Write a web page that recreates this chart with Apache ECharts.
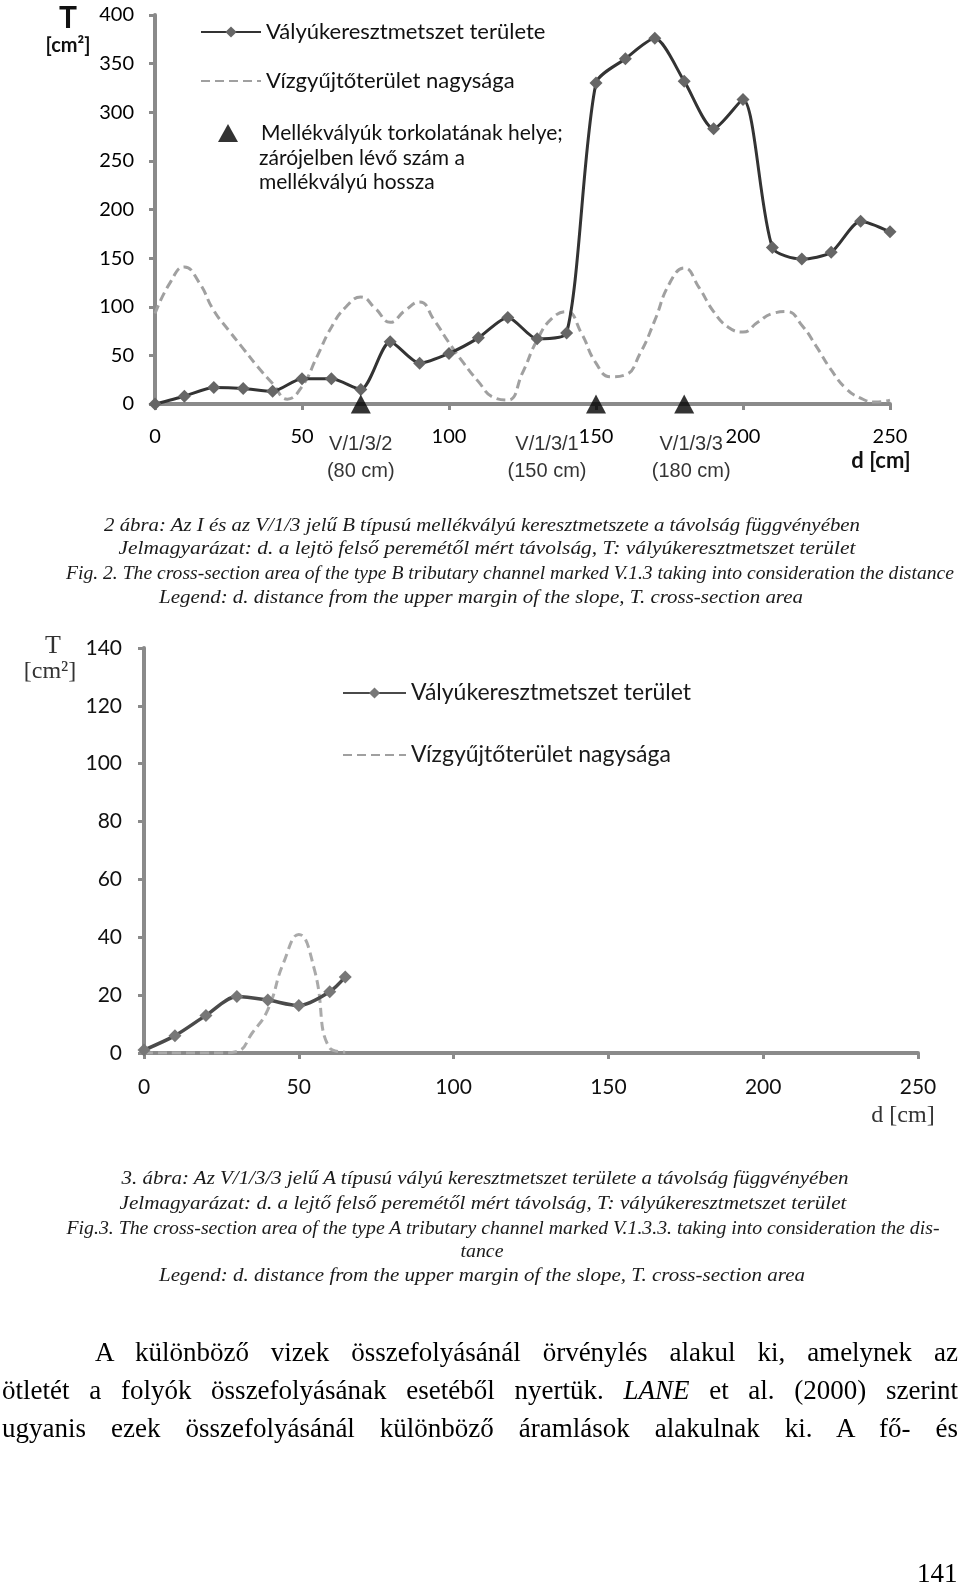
<!DOCTYPE html>
<html lang="hu">
<head>
<meta charset="utf-8">
<title>Vályúkeresztmetszet</title>
<script src="https://cdn.jsdelivr.net/npm/echarts@6/dist/echarts.min.js"></script>
<style>
  html,body{margin:0;padding:0;background:#fff;}
  #page{position:relative;width:960px;height:1585px;overflow:hidden;background:#fff;}
  #chart{position:absolute;left:0;top:0;width:960px;height:1585px;}
  .ln{position:absolute;white-space:nowrap;line-height:1;}
  .cap{font-family:"Liberation Serif","Times New Roman",serif;font-style:italic;font-size:19px;color:#1a1a1a;}
  .bd{font-family:"Liberation Serif","Times New Roman",serif;font-size:27px;color:#000;}
</style>
</head>
<body>
<div id="page"><div id="chart"></div></div>
<script>
// ---------- DATA ----------
// Figure 2 (top chart)
const distTop = [0,10,20,30,40,50,60,70,80,90,100,110,120,130,140,150,160,170,180,190,200,210,220,230,240,250];
const areaTop = [0,8,17,16,13,26,26,15,64,42,52,68,89,67,73,330,355,376,332,283,313,161,149,156,188,177];
const catchDistTop = [0,5,10,15,20,25,30,35,40,45,50,55,60,65,70,75,80,85,90,95,100,105,110,115,120,125,130,135,140,145,150,155,160,165,170,175,180,185,190,195,200,205,210,215,220,225,230,235,240,245,250];
const catchTop = [93,124,141,125,96,76,57,38,21,5,18,48,79,100,110,98,84,96,105,86,63,42,23,7,4,32,66,88,95,73,42,28,30,52,86,124,140,120,95,79,74,84,93,95,81,59,35,16,6,2,4];
const tribDist = [70,150,180];
const tribNames = ['V/1/3/2','V/1/3/1','V/1/3/3'];
const tribLengths = ['(80 cm)','(150 cm)','(180 cm)'];
const yTicksTop = [0,50,100,150,200,250,300,350,400];
// Figure 3 (bottom chart)
const distBot = [0,10,20,30,40,50,60,65];
const areaBot = [1,6,13,19.5,18.3,16.4,21.2,26.3];
const catchDistBot = [0,5,10,15,20,25,30,35,40,45,50,55,60,65];
const catchBot = [0,0,0,0,0,0,0.5,7,15,31,41,29,1.7,0.3];
const yTicksBot = [0,20,40,60,80,100,120,140];
const xTicks = [0,50,100,150,200,250];

const nameSolidTop = 'Vályúkeresztmetszet területe';
const nameDash = 'Vízgyűjtőterület nagysága';
const nameTrib = 'Mellékvályúk torkolatának helye;';
const nameSolidBot = 'Vályúkeresztmetszet terület';

// ---------- CHART ----------
const zip = (a, b) => a.map((v, i) => [v, b[i]]);
const diamond = 'path://M0,-1L1,0L0,1L-1,0Z';
const AX = '#8a8a8a';
function axisBase() {
  return {
    axisLine: {show: true, lineStyle: {color: AX, width: 4}},
    axisTick: {show: true, length: 6, lineStyle: {color: AX, width: 3}},
    splitLine: {show: false}
  };
}
const chart = echarts.init(document.getElementById('chart'), null, {width: 960, height: 1585});
const tribLabelOffsets = [[0, 54], [-49, 54], [7, 54]];
const noSymbol = {color: 'rgba(0,0,0,0)', borderWidth: 0, opacity: 0};

chart.setOption({
  animation: false,
  backgroundColor: '#fff',
  grid: [
    {left: 155, top: 15, width: 735, height: 389},
    {left: 144, top: 648, width: 774, height: 405}
  ],
  xAxis: [
    Object.assign(axisBase(), {type: 'value', gridIndex: 0, min: xTicks[0], max: xTicks[xTicks.length-1], interval: 50,
      axisLabel: {color: '#000', fontFamily: 'Lato', fontSize: 20, margin: 23}}),
    Object.assign(axisBase(), {type: 'value', gridIndex: 1, min: xTicks[0], max: xTicks[xTicks.length-1], interval: 50,
      axisLabel: {color: '#111', fontFamily: 'Lato', fontSize: 21, margin: 24}})
  ],
  yAxis: [
    Object.assign(axisBase(), {type: 'value', gridIndex: 0, min: yTicksTop[0], max: yTicksTop[yTicksTop.length-1], interval: 50,
      axisLabel: {color: '#000', fontFamily: 'Lato', fontSize: 20, margin: 21}}),
    Object.assign(axisBase(), {type: 'value', gridIndex: 1, min: yTicksBot[0], max: yTicksBot[yTicksBot.length-1], interval: 20,
      axisLabel: {color: '#111', fontFamily: 'Lato', fontSize: 21, margin: 22}})
  ],
  legend: [
    {data: [nameSolidTop, {name: nameDash, itemStyle: noSymbol}], orient: 'vertical', left: 195, top: 15, itemWidth: 60, itemHeight: 14, itemGap: 25,
      selectedMode: false, textStyle: {fontFamily: 'Lato', fontSize: 22, color: '#111', lineHeight: 24}},
    {data: [{name: nameTrib, icon: 'triangle'}], orient: 'vertical', left: 213, top: 116, itemWidth: 20, itemHeight: 18,
      selectedMode: false, textStyle: {fontFamily: 'Lato', fontSize: 21, color: '#111', lineHeight: 24, padding: [0, 0, 0, 18]}},
    {data: [nameSolidBot, {name: nameDash, itemStyle: noSymbol}], orient: 'vertical', left: 337, top: 675, itemWidth: 63, itemHeight: 14, itemGap: 36,
      selectedMode: false, textStyle: {fontFamily: 'Lato', fontSize: 23, color: '#1a1a1a', lineHeight: 26}}
  ],
  graphic: [
    {type: 'text', x: 68, y: 18, style: {text: 'T', font: 'bold 30px Lato', fill: '#111', align: 'center', verticalAlign: 'middle'}},
    {type: 'text', x: 68, y: 46, style: {text: '[cm²]', font: 'bold 20px Lato', fill: '#111', align: 'center', verticalAlign: 'middle'}},
    {type: 'text', x: 881, y: 461, style: {text: 'd [cm]', font: 'bold 22px Lato', fill: '#111', align: 'center', verticalAlign: 'middle'}},
    {type: 'text', x: 259, y: 158, style: {text: 'zárójelben lévő szám a', font: '21px Lato', fill: '#111', align: 'left', verticalAlign: 'middle'}},
    {type: 'text', x: 259, y: 182, style: {text: 'mellékvályú hossza', font: '21px Lato', fill: '#111', align: 'left', verticalAlign: 'middle'}},
    {type: 'text', x: 53, y: 646, style: {text: 'T', font: '26px "Liberation Serif"', fill: '#333', align: 'center', verticalAlign: 'middle'}},
    {type: 'text', x: 50, y: 672, style: {text: '[cm²]', font: '24px "Liberation Serif"', fill: '#333', align: 'center', verticalAlign: 'middle'}},
    {type: 'text', x: 903, y: 1116, style: {text: 'd [cm]', font: '24px "Liberation Serif"', fill: '#333', align: 'center', verticalAlign: 'middle'}}
  ],
  series: [
    {name: nameDash, type: 'line', xAxisIndex: 0, yAxisIndex: 0, data: zip(catchDistTop, catchTop), smooth: 0.5,
      symbol: 'none', lineStyle: {color: '#a0a0a0', width: 3, type: [9, 5]}, itemStyle: {color: '#a0a0a0'}, z: 2},
    {name: nameSolidTop, type: 'line', xAxisIndex: 0, yAxisIndex: 0, data: zip(distTop, areaTop), smooth: 0.25,
      symbol: diamond, symbolSize: 13, lineStyle: {color: '#333', width: 3}, itemStyle: {color: '#666'}, z: 3},
    {name: nameTrib, type: 'scatter', xAxisIndex: 0, yAxisIndex: 0, clip: false,
      data: tribDist.map((d, i) => ({value: [d, 0], label: {offset: tribLabelOffsets[i]}})),
      symbol: 'triangle', symbolSize: [20, 19], itemStyle: {color: '#000'}, z: 5,
      label: {show: true, position: 'inside', align: 'center', verticalAlign: 'middle',
        formatter: p => tribNames[p.dataIndex] + '\n' + tribLengths[p.dataIndex],
        fontFamily: '"Liberation Sans", Arial', fontSize: 20, lineHeight: 27, color: '#000'}},
    {name: nameDash, type: 'line', xAxisIndex: 1, yAxisIndex: 1, data: zip(catchDistBot, catchBot), smooth: 0.5,
      symbol: 'none', lineStyle: {color: '#aaaaaa', width: 3, type: [9, 5]}, itemStyle: {color: '#aaaaaa'}, z: 2},
    {name: nameSolidBot, type: 'line', xAxisIndex: 1, yAxisIndex: 1, data: zip(distBot, areaBot), smooth: 0.3,
      symbol: diamond, symbolSize: 13, lineStyle: {color: '#4a4a4a', width: 3.5}, itemStyle: {color: '#777'}, z: 3}
  ]
});

// ---------- TEXT (captions and body) ----------
const page = document.getElementById('page');
const captionTexts = [
  '2 ábra: Az I és az V/1/3 jelű B típusú mellékvályú keresztmetszete a távolság függvényében',
  'Jelmagyarázat: d. a lejtö felső peremétől mért távolság, T: vályúkeresztmetszet terület',
  'Fig. 2. The cross-section area of the type B tributary channel marked V.1.3 taking into consideration the distance',
  'Legend: d. distance from the upper margin of the slope, T. cross-section area',
  '3. ábra: Az V/1/3/3 jelű A típusú vályú keresztmetszet területe a távolság függvényében',
  'Jelmagyarázat: d. a lejtő felső peremétől mért távolság, T:  vályúkeresztmetszet terület',
  'Fig.3. The cross-section area of the type A tributary channel marked V.1.3.3. taking into consideration the dis-',
  'tance',
  'Legend: d. distance from the upper margin of the slope, T. cross-section area'
];
// [centerX, centerY, width]
const captionLayout = [
  [482, 524, 756], [487, 547, 737], [510, 572, 888], [481, 596, 644],
  [485, 1177, 727], [483, 1202, 727], [503, 1227, 873], [482, 1250, 43], [482, 1274, 646]
];
captionTexts.forEach((t, i) => {
  const [cx, cy, w] = captionLayout[i];
  const el = document.createElement('div');
  el.className = 'ln cap';
  el.textContent = t;
  el.style.left = cx + 'px';
  el.style.top = cy + 'px';
  page.appendChild(el);
  const nat = el.getBoundingClientRect().width;
  const s = w / nat;
  el.style.transform = 'translate(-50%,-50%) scaleX(' + s.toFixed(4) + ')';
});

const bodyLines = [
  'A különböző vizek összefolyásánál örvénylés alakul ki, amelynek az',
  'ötletét a folyók összefolyásának esetéből nyertük. <i>LANE</i> et al. (2000) szerint',
  'ugyanis ezek összefolyásánál különböző áramlások alakulnak ki. A fő- és'
];
// [left, right, centerY]
const bodyLayout = [[95, 958, 1352], [2, 958, 1390], [2, 958, 1428]];
bodyLines.forEach((t, i) => {
  const [l, r, cy] = bodyLayout[i];
  const el = document.createElement('div');
  el.className = 'ln bd';
  el.innerHTML = t;
  el.style.left = l + 'px';
  el.style.top = cy + 'px';
  page.appendChild(el);
  const nat = el.getBoundingClientRect().width;
  const target = r - l;
  const spaces = (el.textContent.match(/ /g) || []).length;
  if (nat < target && spaces > 0) {
    el.style.wordSpacing = ((target - nat) / spaces).toFixed(3) + 'px';
    el.style.transform = 'translateY(-50%)';
  } else {
    el.style.transformOrigin = 'left center';
    el.style.transform = 'translateY(-50%) scaleX(' + (target / nat).toFixed(4) + ')';
  }
});

const pn = document.createElement('div');
pn.className = 'ln bd';
pn.textContent = '141';
pn.style.left = '917px';
pn.style.top = '1573px';
pn.style.transform = 'translateY(-50%)';
page.appendChild(pn);
</script>
</body>
</html>
